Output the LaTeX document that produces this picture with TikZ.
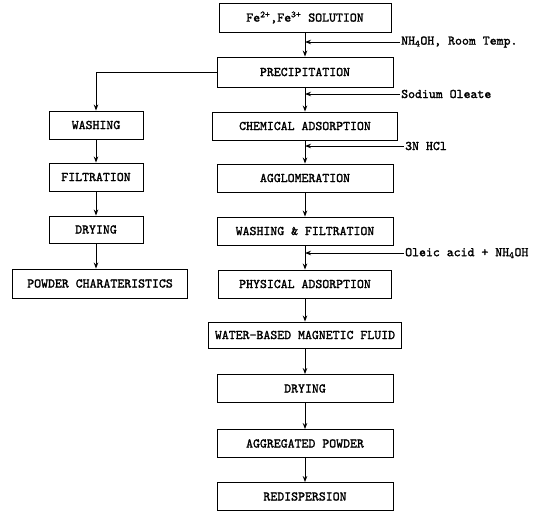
\documentclass[tikz,border=0pt]{standalone}
\usepackage{fontspec}
\usetikzlibrary{arrows.meta}
\newfontfamily\flowfam{lmmono10-regular.otf}[FakeBold=1.6]
\newcommand{\flowfont}{\flowfam\bfseries\fontsize{13.2}{15}\selectfont}
\tikzset{
	stage/.style={draw, line width=0.9pt, minimum width=176pt, minimum height=28pt, inner sep=1pt, font=\flowfont},
	agent/.style={anchor=west, inner sep=1pt, font=\flowfont},
	flow/.style={-{Stealth[length=6pt,width=4.5pt]}, line width=0.9pt}
}
\begin{document}
\begin{tikzpicture}[x=1pt,y=-1pt]
		\useasboundingbox (0,0) rectangle (538,512);
		% main route
		\node[stage, minimum width=172pt, minimum height=29pt] (sol) at (305,17.5) {Fe\textsuperscript{2+},Fe\textsuperscript{3+} SOLUTION};
		\node[stage, minimum height=30pt] (prec) at (305,72) {PRECIPITATION};
		\node[stage, minimum width=185pt] (chem) at (305,126) {CHEMICAL ADSORPTION};
		\node[stage] (aggl) at (305,178) {AGGLOMERATION};
		\node[stage] (wafi) at (305,231) {WASHING \& FILTRATION};
		\node[stage, minimum width=173pt] (phys) at (305,284) {PHYSICAL ADSORPTION};
		\node[stage, minimum width=193pt, minimum height=26pt] (fluid) at (305,335) {WATER-BASED MAGNETIC FLUID};
		\node[stage] (dry) at (305,388.5) {DRYING};
		\node[stage] (aggr) at (305,443.5) {AGGREGATED POWDER};
		\node[stage] (redi) at (305,496.5) {REDISPERSION};
		\foreach \a/\b in {sol/prec, prec/chem, chem/aggl, aggl/wafi, wafi/phys, phys/fluid, fluid/dry, dry/aggr, aggr/redi}
			\draw[flow] (\a) -- (\b);
		% side route
		\node[stage, minimum width=94pt] (wash) at (96,125) {WASHING};
		\node[stage, minimum width=94pt] (filt) at (96,177) {FILTRATION};
		\node[stage, minimum width=94pt, minimum height=27pt] (sdry) at (96,229.5) {DRYING};
		\node[stage, minimum width=175pt, minimum height=29pt] (powd) at (100,283.5) {POWDER CHARATERISTICS};
		\draw[flow] (prec.west) -| (wash.north);
		\draw[flow] (wash) -- (filt);
		\draw[flow] (filt) -- (sdry);
		\draw[flow] (sdry.south) -- (sdry.south |- powd.north);
		% additions
		\node[agent] (nh) at (400,42) {NH\textsubscript{4}OH, Room Temp.};
		\node[agent] (olea) at (400,94) {Sodium Oleate};
		\node[agent] (hcl) at (404,146) {3N HCl};
		\node[agent] (acid) at (404,253) {Oleic acid + NH\textsubscript{4}OH};
		\foreach \s/\t in {nh/sol, olea/prec, hcl/chem, acid/wafi}
			\draw[flow] (\s.west) -- (\s.west -| \t.south);
	\end{tikzpicture}
\end{document}
